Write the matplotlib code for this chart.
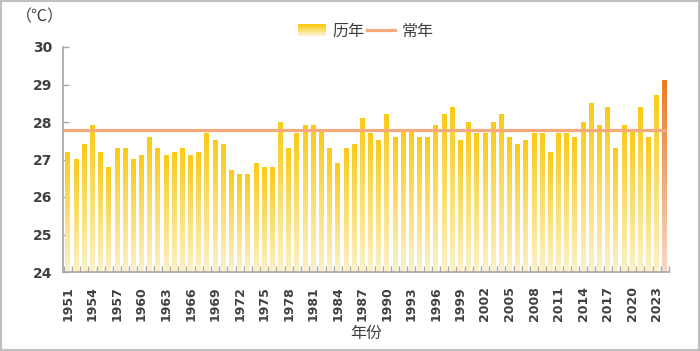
import numpy as np
import matplotlib
matplotlib.use('Agg')
import matplotlib.pyplot as plt
from matplotlib.patches import Rectangle
from matplotlib.lines import Line2D
from matplotlib.legend_handler import HandlerBase
from matplotlib.colors import to_rgb

plt.rcParams['font.family'] = ['Noto Sans CJK SC', 'DejaVu Sans']

years = list(range(1951, 2025))
temps = [27.2, 27.0, 27.4, 27.9, 27.2, 26.8, 27.3, 27.3, 27.0, 27.1,
         27.6, 27.3, 27.1, 27.2, 27.3, 27.1, 27.2, 27.7, 27.5, 27.4,
         26.7, 26.6, 26.6, 26.9, 26.8, 26.8, 28.0, 27.3, 27.7, 27.9,
         27.9, 27.8, 27.3, 26.9, 27.3, 27.4, 28.1, 27.7, 27.5, 28.2,
         27.6, 27.8, 27.8, 27.6, 27.6, 27.9, 28.2, 28.4, 27.5, 28.0,
         27.7, 27.7, 28.0, 28.2, 27.6, 27.4, 27.5, 27.7, 27.7, 27.2,
         27.7, 27.7, 27.6, 28.0, 28.5, 27.9, 28.4, 27.3, 27.9, 27.8,
         28.4, 27.6, 28.7, 29.1]
normal = 27.8
ymin, ymax = 24, 30

gold_top = '#F9CB18'
gold_bot = '#FCF1C8'
last_top = '#EB7A25'
last_bot = '#F6D8C4'
line_col = '#F4AA7D'
txt_col = '#404040'
axis_col = '#A6A6A6'


def gradient(top, bottom, n=64):
	t = np.linspace(0, 1, n)[:, None]
	c0 = np.array(to_rgb(top))
	c1 = np.array(to_rgb(bottom))
	return (c0 * (1 - t) + c1 * t)[:, None, :]


fig = plt.figure(figsize=(7, 3.51), dpi=100)
ax = fig.add_axes([63/700, 1-272/351, (669-63)/700, (272-47)/351])

x = np.arange(len(years))
w = 0.6
for i, v in enumerate(temps):
	top, bot = (last_top, last_bot) if i == len(temps)-1 else (gold_top, gold_bot)
	ax.imshow(gradient(top, bot), extent=[x[i]-w/2, x[i]+w/2, ymin, v],
	          aspect='auto', origin='upper', zorder=2, interpolation='bilinear')

ax.plot([x[0]-0.5, x[-1]], [normal, normal], color=line_col, lw=2.3, zorder=3)

ax.set_xlim(-0.6, len(years)-0.5)
ax.set_ylim(ymin, ymax)
ax.set_aspect('auto')

for s in ['top', 'right']:
	ax.spines[s].set_visible(False)
for s in ['left', 'bottom']:
	ax.spines[s].set_color(axis_col)
	ax.spines[s].set_linewidth(1.2)
	ax.spines[s].set_zorder(4)

ax.set_yticks(range(ymin, ymax+1))
ax.tick_params(axis='y', colors=axis_col, labelcolor=txt_col, length=4,
               width=1, direction='in', pad=8)
for lab in ax.get_yticklabels():
	lab.set_fontweight('bold')
	lab.set_family('DejaVu Sans')
	lab.set_fontsize(10)

tick_idx = x[::3]
ax.set_xticks(tick_idx)
ax.set_xticklabels([str(years[i]) for i in tick_idx], rotation=90, va='top', ha='center',
                   fontsize=9, color=txt_col, fontweight='bold', family='DejaVu Sans')
ax.tick_params(axis='x', length=0, pad=10)
ax.set_xticks(np.arange(len(years)+1)-0.5, minor=True)
ax.tick_params(axis='x', which='minor', length=4, width=1, color=axis_col, direction='in')


class GradHandler(HandlerBase):
	def create_artists(self, legend, orig, xd, yd, width, height, fontsize, trans):
		arts = []
		n = 6
		cols = gradient(gold_top, gold_bot, n)[:, 0, :]
		for k in range(n):
			r = Rectangle((xd, yd + height*(1-(k+1)/n)), width, height/n,
			              facecolor=cols[k], edgecolor='none', transform=trans)
			arts.append(r)
		return arts


h_bar = Rectangle((0, 0), 1, 1)
h_line = Line2D([], [], color=line_col, lw=2.3)
fig.legend([h_bar, h_line], ['历年', '常年'], handler_map={h_bar: GradHandler()},
           loc='center', bbox_to_anchor=(366/700, 1-31/351), ncol=2, frameon=False,
           fontsize=11.5, handlelength=1.75, handleheight=0.7, columnspacing=0.15,
           handletextpad=0.4, labelcolor=txt_col)

fig.text(16/700, 1-17/351, '（℃）', fontsize=11.5, color=txt_col, va='center', ha='left')
fig.text(366/700, 1-333/351, '年份', fontsize=11.5, color=txt_col, va='center', ha='center')

fig.add_artist(Rectangle((0.001, 0.002), 0.997, 0.995, transform=fig.transFigure,
                         facecolor='none', edgecolor='#BFBFBF', lw=1.5))

plt.savefig('out.png', dpi=100)
